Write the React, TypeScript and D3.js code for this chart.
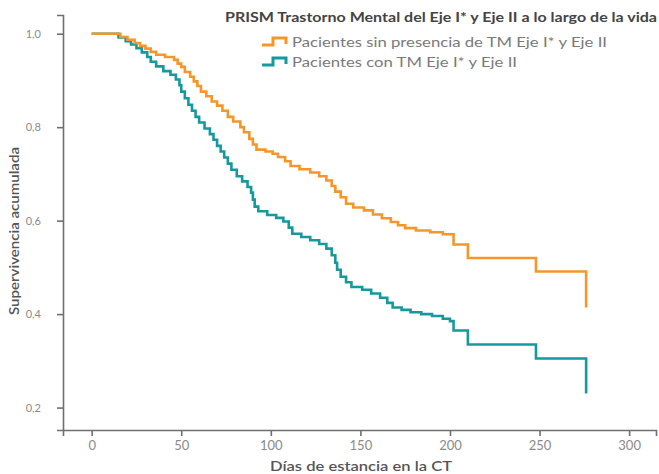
import React, { useEffect, useRef } from 'react';
import * as d3 from 'd3';

// Kaplan-Meier steps (day, survival)
const sinTMDays = [0, 16, 20, 24, 27, 30, 33, 36, 41, 46, 48, 50, 52, 55, 57, 59, 61, 64, 67, 70, 73, 76, 79, 83, 85, 88, 90, 92, 97, 101, 104, 108, 111, 116, 122, 127, 131, 134, 136, 139, 142, 146, 152, 157, 162, 167, 171, 175, 181, 189, 196, 202, 210, 248, 276];
const sinTMSurv = [1.0, 0.993, 0.987, 0.98, 0.974, 0.968, 0.961, 0.955, 0.95, 0.944, 0.936, 0.929, 0.918, 0.908, 0.898, 0.888, 0.876, 0.866, 0.855, 0.846, 0.835, 0.822, 0.812, 0.8, 0.789, 0.775, 0.763, 0.752, 0.748, 0.743, 0.736, 0.727, 0.717, 0.71, 0.703, 0.695, 0.686, 0.674, 0.662, 0.65, 0.636, 0.628, 0.622, 0.613, 0.605, 0.597, 0.59, 0.584, 0.579, 0.575, 0.571, 0.549, 0.52, 0.491, 0.414];

const conTMDays = [0, 15, 19, 22, 25, 28, 31, 33, 36, 40, 44, 47, 49, 50, 52, 54, 56, 58, 60, 63, 66, 68, 70, 72, 74, 76, 78, 81, 84, 87, 89, 90, 91, 93, 98, 103, 107, 110, 112, 117, 122, 127, 131, 134, 136, 137, 139, 142, 145, 151, 156, 161, 165, 168, 173, 178, 184, 190, 196, 200, 202, 210, 248, 276];
const conTMSurv = [1.0, 0.992, 0.984, 0.977, 0.969, 0.96, 0.95, 0.94, 0.93, 0.92, 0.912, 0.902, 0.89, 0.876, 0.862, 0.848, 0.835, 0.822, 0.81, 0.797, 0.785, 0.773, 0.76, 0.748, 0.735, 0.722, 0.709, 0.695, 0.684, 0.672, 0.66, 0.645, 0.63, 0.62, 0.612, 0.606, 0.598, 0.585, 0.572, 0.565, 0.558, 0.55, 0.54, 0.526, 0.51, 0.495, 0.48, 0.468, 0.458, 0.452, 0.444, 0.435, 0.424, 0.414, 0.409, 0.404, 0.4, 0.396, 0.39, 0.385, 0.365, 0.335, 0.305, 0.23];

const xTicks = [0, 50, 100, 150, 200, 250, 300];
const yTicks = [0.2, 0.4, 0.6, 0.8, 1.0];

const legendTitle = 'PRISM Trastorno Mental del Eje I* y Eje II a lo largo de la vida';
const seriesNames = ['Pacientes sin presencia de TM Eje I* y Eje II', 'Pacientes con TM Eje I* y Eje II'];
const seriesColors = ['#f5962a', '#16989f'];

const FONT = 'Lato, "Noto Sans", sans-serif';

const App = () => {
    const [width, height] = [659, 474];
    const xAxisRef = useRef<SVGGElement>(null);
    const yAxisRef = useRef<SVGGElement>(null);

    const x = d3.scaleLinear().domain([-16, 315]).range([63, 656]);
    const y = d3.scaleLinear().domain([0.152, 1.04]).range([430, 15]);

    const es = d3.formatLocale({ decimal: ',', thousands: '.', grouping: [3], currency: ['', ''] });
    const fmt = es.format('.1f');

    const line = d3.line<[number, number]>()
        .x((d) => x(d[0]))
        .y((d) => y(d[1]))
        .curve(d3.curveStepAfter);

    const sinData = sinTMDays.map((d, i) => [d, sinTMSurv[i]] as [number, number]);
    const conData = conTMDays.map((d, i) => [d, conTMSurv[i]] as [number, number]);

    useEffect(() => {
        // axes drawn by d3, then restyled
        const xa = d3.select(xAxisRef.current!);
        xa.call(d3.axisBottom(x).tickValues(xTicks).tickSizeOuter(0).tickSize(6).tickPadding(5) as any);
        const ya = d3.select(yAxisRef.current!);
        ya.call(d3.axisLeft(y).tickValues(yTicks).tickFormat((d) => fmt(d as number)).tickSizeOuter(0).tickSize(6).tickPadding(16) as any);

        [xa, ya].forEach((a) => {
            a.select('.domain').attr('stroke', '#6f6f6f').attr('stroke-width', 1.6);
            a.selectAll('.tick line').attr('stroke', '#6f6f6f').attr('stroke-width', 1.6);
            a.selectAll('.tick text')
                .attr('fill', '#8a8a8a')
                .style('font-family', FONT);
        });
        xa.selectAll('.tick text').style('font-size', '13px');
        ya.selectAll('.tick text').style('font-size', '11px');
    }, []);

    return (
        <div style={{ position: 'absolute', left: 0, top: 0 }}>
            <svg width={width} height={height} style={{ display: 'block', background: '#fff' }}>
                <g ref={yAxisRef} transform={`translate(63,0)`} />
                <g ref={xAxisRef} transform={`translate(0,430)`} />

                <path d={line(conData) || ''} fill="none" stroke={seriesColors[1]} strokeWidth={2.6} />
                <path d={line(sinData) || ''} fill="none" stroke={seriesColors[0]} strokeWidth={2.6} />

                {/* axis titles */}
                <text x={270} y={471} fill="#555" fontFamily={FONT} fontSize={14} fontWeight={600} textLength={182} lengthAdjust="spacingAndGlyphs">
                    Días de estancia en la CT
                </text>
                <text transform="translate(19,315) rotate(-90)" fill="#555" fontFamily={FONT} fontSize={13} fontWeight={600} textLength={168} lengthAdjust="spacingAndGlyphs">
                    Supervivencia acumulada
                </text>

                {/* legend */}
                <text x={225} y={22} fill="#444" fontFamily={FONT} fontSize={12.5} fontWeight={700} textLength={432} lengthAdjust="spacingAndGlyphs">
                    {legendTitle}
                </text>
                {seriesNames.map((name, i) => (
                    <g key={name} transform={`translate(0,${42 + i * 20})`}>
                        <path d="M262,3 H273 V-4 H286 V2" fill="none" stroke={seriesColors[i]} strokeWidth={3} />
                        <text x={292} y={5} fill="#7a7a7a" fontFamily={FONT} fontSize={13.5} textLength={i === 0 ? 315 : 225} lengthAdjust="spacingAndGlyphs">
                            {name}
                        </text>
                    </g>
                ))}
            </svg>
        </div>
    );
};

export default App;
